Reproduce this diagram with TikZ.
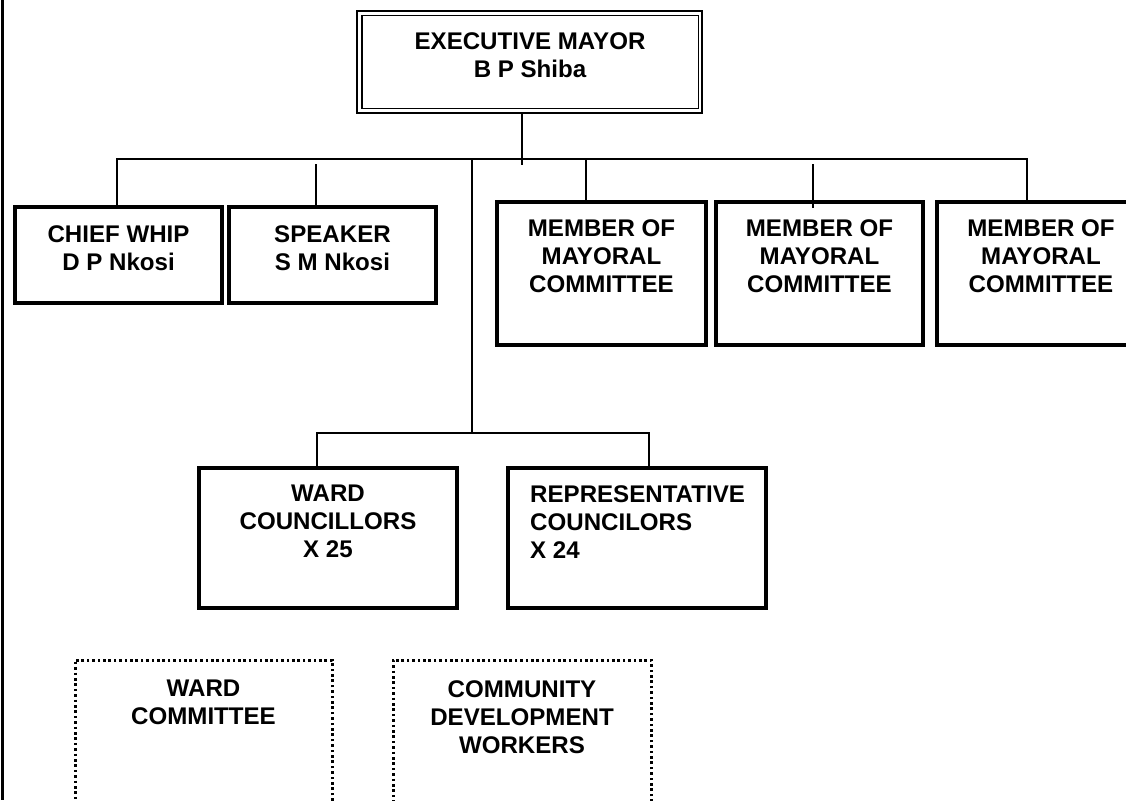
\documentclass[tikz,border=0pt]{standalone}
\usepackage{fontspec}
\setmainfont{Liberation Sans}
\begin{document}
\begin{tikzpicture}[x=1pt,y=-1pt,
  box/.style={draw, line width=3.2pt, rectangle, inner sep=0pt},
  dotbox/.style={draw, line width=3pt, dash pattern=on 2.6pt off 2.8pt, rectangle, inner sep=0pt},
  conn/.style={line width=1.7pt},
  lbl/.style={font=\fontsize{24.1}{28}\selectfont\bfseries, inner sep=0pt, align=center, anchor=north}]
\useasboundingbox (0,0) rectangle (1126,800);
\clip (0,0) rectangle (1126,800);
\fill[white] (0,0) rectangle (1126,800);

% left page rule
\coordinate (edgeT) at (2.5,0);
\coordinate (edgeB) at (2.5,800);
\draw[line width=3pt] (edgeT) -- (edgeB);

% executive mayor, double frame
\node[box, line width=2.7pt, minimum width=345pt, minimum height=102pt] (mayor) at (529.5,62) {};
\draw[line width=1.7pt] ([shift={(6,6)}]mayor.north west) rectangle ([shift={(-5,-6)}]mayor.south east);
\node[lbl] (mayorT) at (530,32) {EXECUTIVE MAYOR\\B P Shiba};

% first row
\node[box, minimum width=207pt, minimum height=96pt] (chief) at (118.5,255) {};
\node[lbl] (chiefT) at (118.5,225) {CHIEF WHIP\\D P Nkosi};
\node[box, minimum width=207pt, minimum height=96pt] (speaker) at (332.5,255) {};
\node[lbl] (speakerT) at (332.5,225) {SPEAKER\\S M Nkosi};

\node[box, minimum width=209pt, minimum height=143pt] (mem1) at (601.5,273.5) {};
\node[lbl] (mem1T) at (601.5,219) {MEMBER OF\\MAYORAL\\COMMITTEE};
\node[box, minimum width=207pt, minimum height=143pt] (mem2) at (819.5,273.5) {};
\node[lbl] (mem2T) at (819.5,219) {MEMBER OF\\MAYORAL\\COMMITTEE};
\node[box, minimum width=208pt, minimum height=143pt] (mem3) at (1041,273.5) {};
\node[lbl] (mem3T) at (1041,219) {MEMBER OF\\MAYORAL\\COMMITTEE};

% councillors
\node[box, minimum width=258pt, minimum height=140pt] (wardc) at (328,538) {};
\node[lbl] (wardcT) at (328,485) {WARD\\COUNCILLORS\\X 25};
\node[box, minimum width=258pt, minimum height=140pt] (repc) at (637,538) {};
\node[lbl, align=left, anchor=north west] (repcT) at (530,485) {REPRESENTATIVE\\COUNCILORS\\X 24};

% dotted boxes
\node[dotbox, minimum width=257pt, minimum height=170pt] (wcom) at (203.5,745) {};
\node[lbl] (wcomT) at (203.5,680) {WARD\\COMMITTEE};
\node[dotbox, minimum width=258pt, minimum height=170pt] (cdw) at (522,745) {};
\node[lbl] (cdwT) at (522,680) {COMMUNITY\\DEVELOPMENT\\WORKERS};

% connector points
\coordinate (hub) at (522,165);
\coordinate (busL) at (117,159);
\coordinate (busR) at (1027,159);
\coordinate (sp0) at (316,164);
\coordinate (m1a) at (586,159);
\coordinate (m2a) at (813,164);
\coordinate (m2b) at (813,208);
\coordinate (v0) at (472,159);
\coordinate (v1) at (472,433);
\coordinate (lbL) at (317,433);
\coordinate (lbR) at (649,433);

% connectors
\draw[conn] (mayor.south -| hub) -- (hub);
\draw[conn] (busL |- chief.north) -- (busL) -- (busR) -- (busR |- mem3.north);
\draw[conn] (sp0) -- (sp0 |- speaker.north);
\draw[conn] (m1a) -- (m1a |- mem1.north);
\draw[conn] (m2a) -- (m2b);
\draw[conn] (v0) -- (v1);
\draw[conn] (lbL |- wardc.north) -- (lbL) -- (lbR) -- (lbR |- repc.north);
\end{tikzpicture}
\end{document}
